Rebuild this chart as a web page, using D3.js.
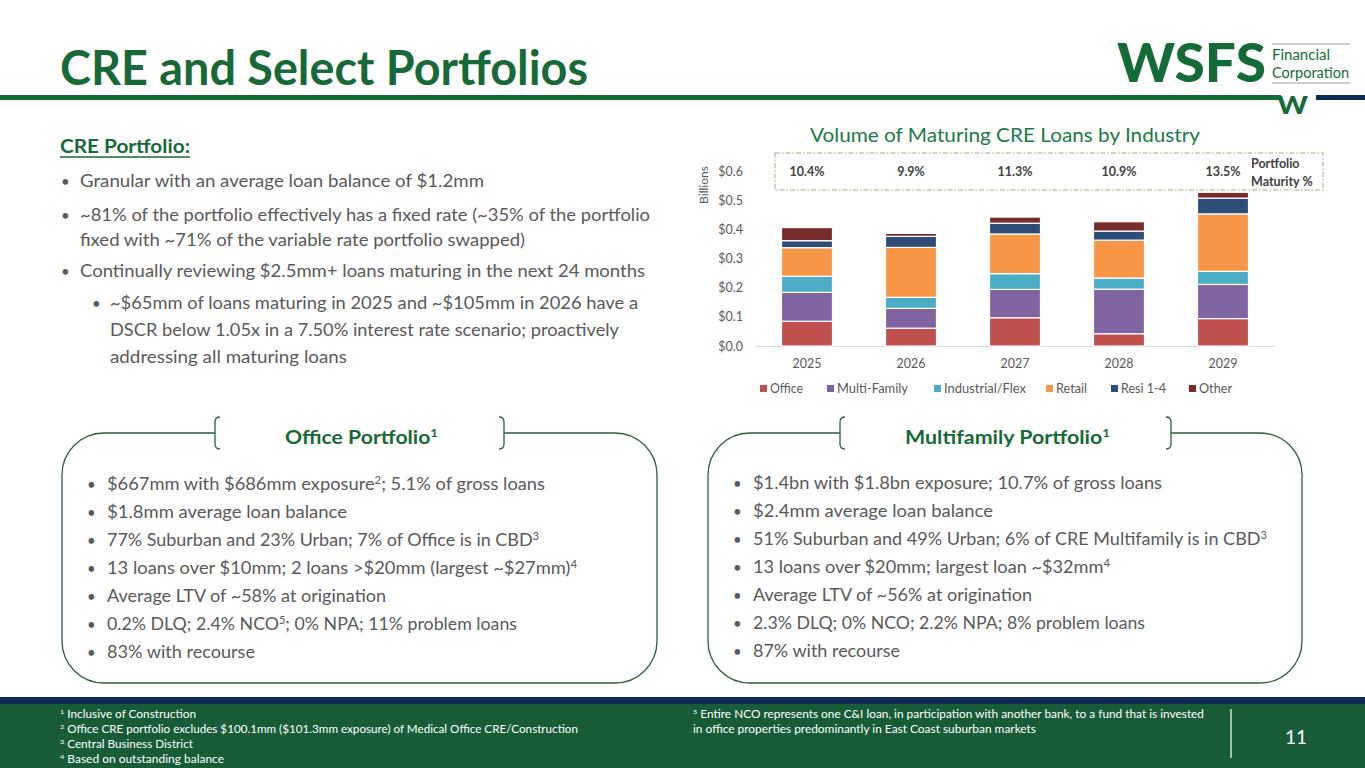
<!DOCTYPE html>
<html>
<head>
<meta charset="utf-8">
<script src="https://cdn.jsdelivr.net/npm/d3@7/dist/d3.min.js"></script>
<style>
  html,body{margin:0;padding:0;background:#fff;}
  svg{display:block;font-family:Lato,"Open Sans",sans-serif;}
</style>
</head>
<body>
<svg id="slide" width="1365" height="768"></svg>
<script>
// ---- chart data ($ billions) ----
const years=['2025','2026','2027','2028','2029'];
const industries=['Office','Multi-Family','Industrial/Flex','Retail','Resi 1-4','Other'];
const office=[0.085,0.061,0.097,0.042,0.094];
const multiFamily=[0.099,0.068,0.097,0.153,0.117];
const industrialFlex=[0.055,0.038,0.054,0.038,0.045];
const retail=[0.098,0.171,0.136,0.130,0.197];
const resi14=[0.024,0.038,0.037,0.031,0.054];
const other=[0.045,0.010,0.021,0.032,0.020];
const maturityPct=['10.4%','9.9%','11.3%','10.9%','13.5%'];
const yTicks=[0,0.1,0.2,0.3,0.4,0.5,0.6];

// ---- slide text (^n^ = superscript) ----
const creBullets=[
  'Granular with an average loan balance of $1.2mm',
  '~81% of the portfolio effectively has a fixed rate (~35% of the portfolio',
  'fixed with ~71% of the variable rate portfolio swapped)',
  'Continually reviewing $2.5mm+ loans maturing in the next 24 months'
];
const creSub=[
  '~$65mm of loans maturing in 2025 and ~$105mm in 2026 have a',
  'DSCR below 1.05x in a 7.50% interest rate scenario; proactively',
  'addressing all maturing loans'
];
const officeLines=[
  '$667mm with $686mm exposure^2^; 5.1% of gross loans',
  '$1.8mm average loan balance',
  '77% Suburban and 23% Urban; 7% of Office is in CBD^3^',
  '13 loans over $10mm; 2 loans >$20mm (largest ~$27mm)^4^',
  'Average LTV of ~58% at origination',
  '0.2% DLQ; 2.4% NCO^5^; 0% NPA; 11% problem loans',
  '83% with recourse'
];
const mfLines=[
  '$1.4bn with $1.8bn exposure; 10.7% of gross loans',
  '$2.4mm average loan balance',
  '51% Suburban and 49% Urban; 6% of CRE Multifamily is in CBD^3^',
  '13 loans over $20mm; largest loan ~$32mm^4^',
  'Average LTV of ~56% at origination',
  '2.3% DLQ; 0% NCO; 2.2% NPA; 8% problem loans',
  '87% with recourse'
];
const footLeft=[
  '^1^ Inclusive of Construction',
  '^2^ Office CRE portfolio excludes $100.1mm ($101.3mm exposure) of Medical Office CRE/Construction',
  '^3^ Central Business District',
  '^4^ Based on outstanding balance'
];
const footRight=[
  '^5^ Entire NCO represents one C&I loan, in participation with another bank, to a fund that is invested',
  'in office properties predominantly in East Coast suburban markets'
];

const GREEN='#176937',GRAY='#595959',DARK='#404040';
const segColors=['#C0504D','#8064A2','#4BACC6','#F79646','#2C4D75','#772C2A'];

const svg=d3.select('#slide');

// text helper: splits on ^ so odd pieces become superscripts
function txt(g,x,y,str,o){
  const t=g.append('text').attr('x',x).attr('y',y)
    .attr('font-size',o.size).attr('fill',o.color||GRAY)
    .attr('font-weight',o.weight||400).attr('text-anchor',o.anchor||'start');
  if(o.len)t.attr('textLength',o.len).attr('lengthAdjust','spacingAndGlyphs');
  const shift=o.size*0.38;
  let up=false;
  str.split('^').forEach((p,i)=>{
    if(!p)return;
    const s=t.append('tspan').text(p);
    if(i%2){s.attr('font-size',o.size*0.62).attr('dy',-shift);up=true;}
    else if(up){s.attr('dy',shift);up=false;}
  });
  return t;
}

// ---- header ----
txt(svg,60,85,'CRE and Select Portfolios',{size:47,weight:700,color:GREEN,len:528});
svg.append('rect').attr('x',0).attr('y',95).attr('width',1281).attr('height',5).attr('fill','#146B38');
svg.append('rect').attr('x',1316).attr('y',95).attr('width',49).attr('height',5).attr('fill','#0C2B50');
txt(svg,1277,114,'W',{size:25,weight:900,color:'#146B38',len:31});
// logo
txt(svg,1117,82,'WSFS',{size:54,weight:900,color:'#146B38',len:149});
svg.append('line').attr('x1',1272).attr('x2',1350).attr('y1',44).attr('y2',44).attr('stroke','#9a9a9a').attr('stroke-width',1);
svg.append('line').attr('x1',1272).attr('x2',1350).attr('y1',83).attr('y2',83).attr('stroke','#9a9a9a').attr('stroke-width',1);
txt(svg,1272,60,'Financial',{size:15.5,color:'#146B38',len:58});
txt(svg,1272,78,'Corporation',{size:15.5,color:'#146B38',len:77});

// ---- CRE portfolio text ----
const cre=svg.append('g');
txt(cre,60,153,'CRE Portfolio:',{size:19,weight:700,color:GREEN,len:130});
cre.append('line').attr('x1',60).attr('x2',190).attr('y1',157).attr('y2',157).attr('stroke',GREEN).attr('stroke-width',1.3);
const creY=[187,221,246,277],creEnd=[484,650,525,645];
creBullets.forEach((s,i)=>{
  if(i!==2)txt(cre,61,creY[i],'•',{size:15});
  txt(cre,80,creY[i],s,{size:17,len:creEnd[i]-80});
});
const subY=[309,336,363],subEnd=[638,619,347];
txt(cre,92,subY[0],'•',{size:15});
creSub.forEach((s,i)=>txt(cre,110,subY[i],s,{size:17,len:subEnd[i]-110}));

// ---- chart ----
const chart=svg.append('g');
const x=d3.scaleBand().domain(years).range([755,1275]).paddingInner(0.51).paddingOuter(0.255);
const y=d3.scaleLinear().domain([0,0.6]).range([346,171]);
txt(chart,1005,142,'Volume of Maturing CRE Loans by Industry',{size:20,color:'#1B7A48',anchor:'middle',len:390});

const series=[office,multiFamily,industrialFlex,retail,resi14,other];
const rows=years.map((yr,i)=>{const r={year:yr};industries.forEach((k,j)=>r[k]=series[j][i]);return r;});
const stack=d3.stack().keys(industries)(rows);

chart.append('g').attr('transform','translate(0,346)')
  .call(d3.axisBottom(x).tickSize(0).tickPadding(13))
  .call(g=>{g.select('.domain').attr('stroke','#D9D9D9').attr('stroke-width',1.2);
    g.selectAll('text').attr('font-size',12.5).attr('fill',GRAY).attr('font-family','Lato,sans-serif');});
chart.append('g').attr('transform','translate(743,0)')
  .call(d3.axisLeft(y).tickValues(yTicks).tickSize(0).tickPadding(0).tickFormat(d=>'$'+d3.format('.1f')(d)))
  .call(g=>{g.select('.domain').remove();
    g.selectAll('text').attr('font-size',12.5).attr('fill',GRAY).attr('font-family','Lato,sans-serif');});
chart.append('text').attr('transform','translate(708,185) rotate(-90)').attr('text-anchor','middle')
  .attr('font-size',12).attr('fill',GRAY).text('Billions');

chart.selectAll('g.layer').data(stack).join('g').attr('class','layer')
  .attr('fill',(d,i)=>segColors[i])
  .selectAll('rect').data(d=>d).join('rect')
  .attr('x',d=>x(d.data.year)).attr('width',x.bandwidth())
  .attr('y',d=>y(d[1])).attr('height',d=>y(d[0])-y(d[1]))
  .attr('stroke','#fff').attr('stroke-width',1.2);

// portfolio maturity band
chart.append('rect').attr('x',775).attr('y',153).attr('width',548).attr('height',37)
  .attr('fill','none').attr('stroke','#C6C6AE').attr('stroke-width',1.5).attr('stroke-dasharray','5,2,1.5,2');
years.forEach((yr,i)=>txt(chart,x(yr)+x.bandwidth()/2,176,maturityPct[i],{size:12.5,weight:700,color:DARK,anchor:'middle'}));
txt(chart,1251,168,'Portfolio',{size:12.5,weight:700,color:DARK});
txt(chart,1251,186,'Maturity %',{size:12.5,weight:700,color:DARK});

// legend
const legX=[760,827,934,1046,1111,1189],legLen=[33,71,82,31,45,33];
industries.forEach((k,i)=>{
  chart.append('rect').attr('x',legX[i]).attr('y',385).attr('width',7).attr('height',7).attr('fill',segColors[i]);
  txt(chart,legX[i]+10,393,k,{size:12.5,len:legLen[i]});
});

// ---- portfolio boxes ----
function panel(L,R,b1,b2,title,tLen,lines,ends,baseY){
  const T=433,B=683,r=42,g=svg.append('g');
  const p=d3.path();
  p.moveTo(b1,T);p.lineTo(L+r,T);p.arcTo(L,T,L,T+r,r);p.lineTo(L,B-r);p.arcTo(L,B,L+r,B,r);
  p.lineTo(R-r,B);p.arcTo(R,B,R,B-r,r);p.lineTo(R,T+r);p.arcTo(R,T,R-r,T,r);p.lineTo(b2,T);
  const br=d3.path();
  br.moveTo(b1+5,T-16);br.quadraticCurveTo(b1,T-16,b1,T-11);br.lineTo(b1,T+11);br.quadraticCurveTo(b1,T+16,b1+5,T+16);
  br.moveTo(b2-5,T-16);br.quadraticCurveTo(b2,T-16,b2,T-11);br.lineTo(b2,T+11);br.quadraticCurveTo(b2,T+16,b2-5,T+16);
  g.append('path').attr('d',p.toString()+br.toString()).attr('fill','none').attr('stroke','#2D5E3D').attr('stroke-width',1.3);
  txt(g,(b1+b2)/2+2,444,title,{size:19,weight:700,color:GREEN,anchor:'middle',len:tLen});
  lines.forEach((s,i)=>{
    txt(g,L+25,baseY+i*28,'•',{size:15});
    txt(g,L+45,baseY+i*28,s,{size:17,len:ends[i]-L-45});
  });
}
panel(62,657,215,504,'Office Portfolio^1^',153,officeLines,[545,347,539,577,386,517,255],490);
panel(708,1302,840,1171,'Multifamily Portfolio^1^',205,mfLines,[1162,993,1267,1110,1032,1145,900],489);

// ---- footer ----
svg.append('rect').attr('x',0).attr('y',697).attr('width',1365).attr('height',8).attr('fill','#0C2B50');
svg.append('rect').attr('x',0).attr('y',704).attr('width',1365).attr('height',64).attr('fill','#185C37');
const foot=svg.append('g');
const flEnd=[196,578,193,224];
footLeft.forEach((s,i)=>txt(foot,60,718+i*15,s,{size:10.5,color:'#fff',len:flEnd[i]-60}));
const frEnd=[1204,1036];
footRight.forEach((s,i)=>txt(foot,693,718+i*15,s,{size:10.5,color:'#fff',len:frEnd[i]-693}));
foot.append('line').attr('x1',1231).attr('x2',1231).attr('y1',709).attr('y2',758).attr('stroke','#fff').attr('stroke-width',1.2);
txt(foot,1296,744,'11',{size:19,color:'#fff',anchor:'middle'});
</script>
</body>
</html>
